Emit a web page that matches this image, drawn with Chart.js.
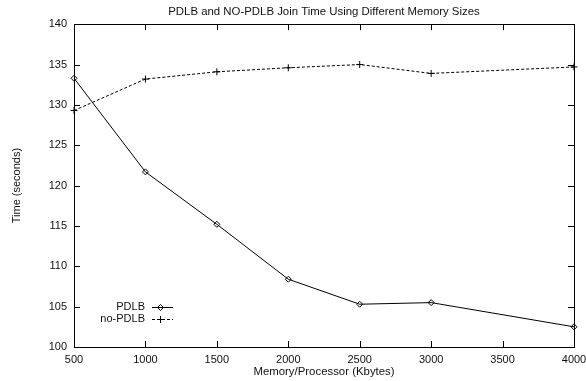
<!DOCTYPE html>
<html>
<head>
<meta charset="utf-8">
<script src="https://cdn.jsdelivr.net/npm/chart.js@4/dist/chart.umd.min.js"></script>
<style>
  html, body { margin: 0; padding: 0; background: #fff; }
  #wrap { width: 586px; height: 381px; }
</style>
</head>
<body>
<div id="wrap"><canvas id="joinCanvas"></canvas></div>
<script>
// memory per processor (Kbytes) and join times (seconds)
const memSizes = [500, 1000, 1500, 2000, 2500, 3000, 4000];
const pdlbTimes = [133.3, 121.7, 115.2, 108.4, 105.3, 105.5, 102.5];
const noPdlbTimes = [129.3, 133.2, 134.1, 134.6, 135.0, 133.9, 134.7];
const seriesNames = ["PDLB", "no-PDLB"];

const FONT = "'Liberation Sans', Arial, Helvetica, sans-serif";
const INK = "#111";

function toPoints(vals) {
    return memSizes.map((m, i) => ({ x: m, y: vals[i] }));
}

// box around the plot + inward ticks on all four sides
const frameTicks = {
    id: "frameTicks",
    afterDraw(chart) {
        const ctx = chart.ctx;
        const a = chart.chartArea;
        const xs = chart.scales.x, ys = chart.scales.y;
        const len = 6;
        ctx.save();
        ctx.strokeStyle = "#000";
        ctx.lineWidth = 1;
        ctx.strokeRect(Math.round(a.left) + 0.5, Math.round(a.top) + 0.5,
            Math.round(a.right - a.left), Math.round(a.bottom - a.top));
        ctx.beginPath();
        xs.ticks.forEach(t => {
            const px = Math.round(xs.getPixelForValue(t.value)) + 0.5;
            ctx.moveTo(px, a.bottom); ctx.lineTo(px, a.bottom - len);
            ctx.moveTo(px, a.top); ctx.lineTo(px, a.top + len);
        });
        ys.ticks.forEach(t => {
            const py = Math.round(ys.getPixelForValue(t.value)) + 0.5;
            ctx.moveTo(a.left, py); ctx.lineTo(a.left + len, py);
            ctx.moveTo(a.right, py); ctx.lineTo(a.right - len, py);
        });
        ctx.stroke();
        ctx.restore();
    }
};

// key in the lower left: label, then line sample with marker
const keyBox = {
    id: "keyBox",
    afterDatasetsDraw(chart) {
        const ctx = chart.ctx;
        const textRight = 145, x0 = 152, x1 = 173;
        const rows = [307, 319];
        ctx.save();
        ctx.font = "11px " + FONT;
        ctx.textAlign = "right";
        ctx.textBaseline = "middle";
        chart.data.datasets.forEach((ds, i) => {
            const y = rows[i];
            ctx.fillStyle = INK;
            ctx.fillText(ds.label, textRight, y);
            ctx.save();
            ctx.strokeStyle = ds.borderColor;
            ctx.lineWidth = ds.borderWidth;
            ctx.setLineDash(ds.borderDash || []);
            ctx.beginPath();
            ctx.moveTo(x0, y + 0.5);
            ctx.lineTo(x1, y + 0.5);
            ctx.stroke();
            ctx.restore();
            ctx.save();
            ctx.strokeStyle = "#000";
            ctx.fillStyle = "rgba(0,0,0,0)";
            ctx.lineWidth = 1;
            Chart.helpers.drawPoint(ctx, {
                pointStyle: ds.pointStyle,
                radius: ds.pointRadius,
                borderWidth: 1,
                rotation: 0
            }, (x0 + x1) / 2 - 2, y + 0.5);
            ctx.restore();
        });
        ctx.restore();
    }
};

const joinChart = new Chart(document.getElementById("joinCanvas"), {
    type: "line",
    data: {
        datasets: [
            {
                label: seriesNames[0],
                data: toPoints(pdlbTimes),
                borderColor: "#000",
                borderWidth: 1,
                pointStyle: "rectRot",
                pointRadius: 3,
                pointBorderColor: "#000",
                pointBackgroundColor: "rgba(0,0,0,0)",
                pointBorderWidth: 1,
                tension: 0,
                clip: false
            },
            {
                label: seriesNames[1],
                data: toPoints(noPdlbTimes),
                borderColor: "#000",
                borderWidth: 1,
                borderDash: [3, 2],
                pointStyle: "cross",
                pointRadius: 3.5,
                pointBorderColor: "#000",
                pointBorderWidth: 1,
                tension: 0,
                clip: false
            }
        ]
    },
    options: {
        responsive: true,
        maintainAspectRatio: false,
        animation: false,
        layout: { padding: { left: 0, right: 12, top: 0, bottom: 0 } },
        plugins: {
            legend: { display: false },
            tooltip: { enabled: false },
            title: {
                display: true,
                text: "PDLB and NO-PDLB Join Time Using Different Memory Sizes",
                fullSize: false,
                color: INK,
                font: { family: FONT, size: 11.4, weight: "normal" },
                padding: { top: 5, bottom: 5.5 }
            }
        },
        scales: {
            x: {
                type: "linear",
                min: 500,
                max: 4000,
                afterFit(scale) {
                    scale.height = 34;
                    scale.paddingLeft = 0;
                    scale.paddingRight = 0;
                },
                grid: { display: false, drawTicks: false },
                border: { display: false },
                ticks: {
                    stepSize: 500,
                    padding: 6,
                    maxRotation: 0,
                    color: INK,
                    font: { family: FONT, size: 11 },
                    callback: v => String(v)
                },
                title: {
                    display: true,
                    text: "Memory/Processor (Kbytes)",
                    color: INK,
                    font: { family: FONT, size: 11.4 },
                    padding: { top: 0, bottom: 2 }
                }
            },
            y: {
                min: 100,
                max: 140,
                afterFit(scale) { scale.width = 74; },
                grid: { display: false, drawTicks: false },
                border: { display: false },
                ticks: {
                    stepSize: 5,
                    padding: 7,
                    color: INK,
                    font: { family: FONT, size: 11 }
                },
                title: {
                    display: true,
                    text: "Time (seconds)",
                    color: INK,
                    font: { family: FONT, size: 11 },
                    padding: { top: 10, bottom: 0 }
                }
            }
        }
    },
    plugins: [frameTicks, keyBox]
});
</script>
</body>
</html>
